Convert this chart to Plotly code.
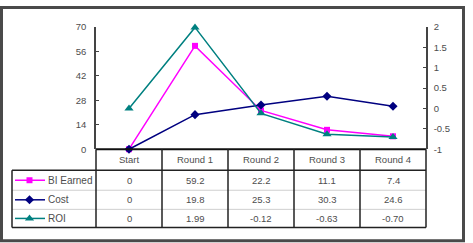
import plotly.graph_objects as go

# ---- data ----
categories = ["Start", "Round 1", "Round 2", "Round 3", "Round 4"]
bi_earned = [0, 59.2, 22.2, 11.1, 7.4]
cost = [0, 19.8, 25.3, 30.3, 24.6]
roi = [0, 1.99, -0.12, -0.63, -0.70]
left_ticks = [0, 14, 28, 42, 56, 70]
right_ticks = [-1, -0.5, 0, 0.5, 1, 1.5, 2]

W, H = 473, 243
FONT = "Liberation Sans, Arial, sans-serif"
TXT = "#4d4d4d"

# layout geometry (pixels)
PX_L, PX_R = 96, 426
PY_T, PY_B = 22, 150
ROW_Y = [150, 172, 193, 213, 232]
TABLE_L = 12

def px(x):
    return x / W

def py(y):
    return 1 - y / H

def fmt(v, nd):
    return "0" if v == 0 else f"{v:.{nd}f}"

series = [
    ("BI Earned", bi_earned, "#FF00FF", "square", 6, "y", 1),
    ("Cost", cost, "#000080", "diamond", 7, "y", 1),
    ("ROI", roi, "#008080", "triangle-up", 8, "y2", 2),
]

fig = go.Figure()
for name, vals, col, sym, ms, yax, nd in series:
    fig.add_trace(go.Scatter(
        x=categories, y=vals, name=name, mode="lines+markers", yaxis=yax,
        line=dict(color=col, width=1.5),
        marker=dict(symbol=sym, size=ms, color=col, line=dict(width=0)),
        cliponaxis=False, showlegend=False))

shapes = []
annotations = []

def hline(x0, x1, y, color, w):
    shapes.append(dict(type="line", xref="paper", yref="paper",
                       x0=px(x0), x1=px(x1), y0=py(y), y1=py(y),
                       line=dict(color=color, width=w)))

def vline(x, y0, y1, color, w):
    shapes.append(dict(type="line", xref="paper", yref="paper",
                       x0=px(x), x1=px(x), y0=py(y0), y1=py(y1),
                       line=dict(color=color, width=w)))

# outer frame
shapes.append(dict(type="rect", xref="paper", yref="paper",
                   x0=px(1.5), x1=px(463.5), y0=py(1.5), y1=py(246),
                   line=dict(color="#4a4a4a", width=3)))

ncat = len(categories)
colw = (PX_R - PX_L) / ncat
# table grid
hline(PX_L, PX_R, ROW_Y[0], "#111111", 2)
hline(TABLE_L, PX_R, ROW_Y[1], "#222222", 1.5)
hline(TABLE_L, PX_R, ROW_Y[2], "#cfcfcf", 1)
hline(TABLE_L, PX_R, ROW_Y[3], "#cfcfcf", 1)
hline(TABLE_L, PX_R, ROW_Y[4], "#222222", 1.5)
vline(TABLE_L, ROW_Y[1], ROW_Y[4], "#222222", 1.5)
for i in range(ncat + 1):
    vline(PX_L + i * colw, ROW_Y[0], ROW_Y[4], "#222222", 1.5)

# category labels
for i, c in enumerate(categories):
    annotations.append(dict(xref="paper", yref="paper", x=px(PX_L + (i + 0.5) * colw),
                            y=py((ROW_Y[0] + ROW_Y[1]) / 2), text=c, showarrow=False,
                            xanchor="center", yanchor="middle",
                            font=dict(family=FONT, size=9.5, color=TXT)))

# rows
for r, (name, vals, col, sym, ms, yax, nd) in enumerate(series):
    yc = (ROW_Y[r + 1] + ROW_Y[r + 2]) / 2
    for i, v in enumerate(vals):
        annotations.append(dict(xref="paper", yref="paper", x=px(PX_L + (i + 0.5) * colw),
                                y=py(yc), text=fmt(v, nd), showarrow=False,
                                xanchor="center", yanchor="middle",
                                font=dict(family=FONT, size=9.5, color=TXT)))
    # legend key
    shapes.append(dict(type="line", xref="x3", yref="y3", x0=15, x1=45, y0=yc, y1=yc,
                       line=dict(color=col, width=1.5)))
    fig.add_trace(go.Scatter(x=[29.5], y=[yc], xaxis="x3", yaxis="y3", mode="markers",
                             marker=dict(symbol=sym, size=ms, color=col, line=dict(width=0)),
                             showlegend=False, hoverinfo="skip"))
    annotations.append(dict(xref="paper", yref="paper", x=px(46), y=py(yc), text=name,
                            showarrow=False, xanchor="left", yanchor="middle",
                            font=dict(family=FONT, size=10, color=TXT)))

fig.update_layout(
    width=W, height=H, margin=dict(l=0, r=0, t=0, b=0),
    paper_bgcolor="white", plot_bgcolor="rgba(0,0,0,0)",
    font=dict(family=FONT, size=9, color=TXT),
    xaxis=dict(domain=[px(PX_L), px(PX_R)], range=[-0.5, ncat - 0.5],
               showticklabels=False, ticks="", showgrid=False, zeroline=False,
               showline=False, fixedrange=True),
    yaxis=dict(domain=[py(PY_B), py(PY_T)], range=[0, 70], tickvals=left_ticks,
               ticktext=[str(t) for t in left_ticks],
               showgrid=False, zeroline=False, showline=True, linecolor="#444444",
               linewidth=1.5, ticks="inside", ticklen=3, tickcolor="#444444",
               tickfont=dict(family=FONT, size=9.5, color=TXT), ticklabelstandoff=6),
    yaxis2=dict(domain=[py(PY_B), py(PY_T)], range=[-1, 2], overlaying="y", side="right",
                anchor="x", tickvals=right_ticks,
                ticktext=[("%g" % t) for t in right_ticks],
                showgrid=False, zeroline=False, showline=True, linecolor="#444444",
                linewidth=1.5, ticks="inside", ticklen=3, tickcolor="#444444",
                tickfont=dict(family=FONT, size=9.5, color=TXT), ticklabelstandoff=4),
    xaxis3=dict(domain=[0, 1], range=[0, W], visible=False, anchor="y3", fixedrange=True),
    yaxis3=dict(domain=[0, 1], range=[H, 0], visible=False, anchor="x3", fixedrange=True),
    shapes=shapes, annotations=annotations,
)

fig.write_html("out.html")
